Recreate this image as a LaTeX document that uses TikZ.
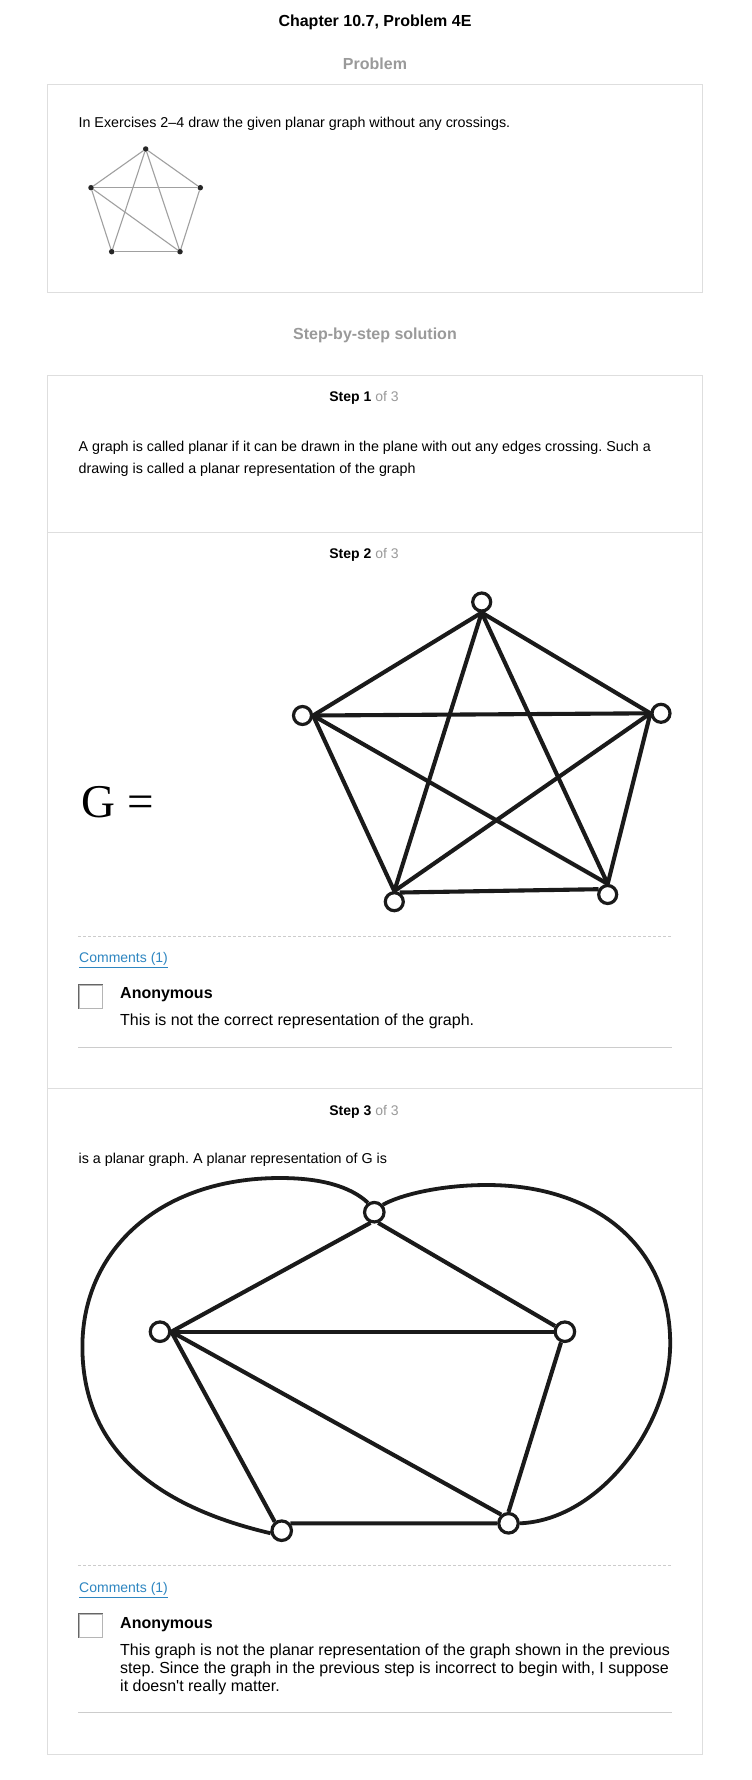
\documentclass[tikz,border=0pt]{standalone}
\usepackage{fontspec}
\setmainfont{Liberation Sans}
\newfontfamily\gserif{Liberation Serif}
\definecolor{headgray}{HTML}{9A9A9A}
\definecolor{framegray}{HTML}{DEDEDE}
\definecolor{linkblue}{HTML}{2E86C1}
\definecolor{rulegray}{HTML}{CCCCCC}
\definecolor{inkblack}{HTML}{1A1A1A}
\definecolor{thingray}{HTML}{A0A0A0}
\definecolor{boxdark}{HTML}{666666}
\definecolor{boxlight}{HTML}{B5B5B5}
\pgfdeclarelayer{edgelayer}
\pgfsetlayers{edgelayer,main}
\frenchspacing
\begin{document}
\frenchspacing
\begin{tikzpicture}[x=1pt,y=1pt,
  heading/.style={inner sep=0pt, anchor=base, font=\bfseries\fontsize{16}{19}\selectfont},
  steptitle/.style={inner sep=0pt, anchor=base, font=\fontsize{14}{17}\selectfont},
  bodytext/.style={inner sep=0pt, anchor=base west, font=\fontsize{14.3}{17}\selectfont},
  commenttext/.style={inner sep=0pt, anchor=base west, font=\fontsize{16}{19}\selectfont},
  author/.style={inner sep=0pt, anchor=base west, font=\bfseries\fontsize{16}{19}\selectfont},
  linktext/.style={inner sep=0pt, anchor=base west, text=linkblue, font=\fontsize{14}{17}\selectfont},
  frame/.style={draw=framegray, line width=1pt},
  dashrule/.style={draw=rulegray, dash pattern=on 3pt off 2pt, line width=0.8pt},
  solidrule/.style={draw=rulegray, line width=1pt},
  vtx/.style={circle, draw=inkblack, fill=white, line width=3.2pt, minimum size=18pt, inner sep=0pt},
  vtxb/.style={circle, draw=inkblack, fill=white, line width=3.2pt, minimum size=19.5pt, inner sep=0pt},
  edge/.style={draw=inkblack, line width=4.1pt},
  curveedge/.style={draw=inkblack, line width=3.8pt, line join=round},
  dot/.style={circle, fill=black!85, minimum size=5.5pt, inner sep=0pt},
  thinedge/.style={draw=thingray, line width=1.1pt},
  chk/.style={rectangle, draw=boxlight, line width=1pt, minimum width=23pt, minimum height=23pt, inner sep=0pt}
]
\useasboundingbox (0,0) rectangle (752,-1780);
\begin{pgfonlayer}{edgelayer}
\fill[white] (0,0) rectangle (752,-1780);
\end{pgfonlayer}

% Title and problem
\node[heading] (title) at (375,-26.5) {Chapter 10.7, Problem 4E};
\node[heading, text=headgray] (probhead) at (375,-69.5) {Problem};
\draw[frame] (47.7,-84) rectangle (702,-292);
\node[bodytext] (probtext) at (78.4,-127.5) {In Exercises 2–4 draw the given planar graph without any crossings.};

% small graph
\node[dot] (p1) at (145.7,-149) {};
\node[dot] (p2) at (91,-187.7) {};
\node[dot] (p3) at (200.3,-187.7) {};
\node[dot] (p4) at (111.7,-251.7) {};
\node[dot] (p5) at (180,-251.7) {};
\begin{pgfonlayer}{edgelayer}
\draw[thinedge] (p1) -- (p2);
\draw[thinedge] (p1) -- (p3);
\draw[thinedge] (p1) -- (p4);
\draw[thinedge] (p1) -- (p5);
\draw[thinedge] (p2) -- (p3);
\draw[thinedge] (p2) -- (p4);
\draw[thinedge] (p2) -- (p5);
\draw[thinedge] (p3) -- (p5);
\draw[thinedge] (p4) -- (p5);
\end{pgfonlayer}

% Solution heading and box
\node[heading, text=headgray] (solhead) at (375,-339) {Step-by-step solution};
\draw[frame] (47.7,-375) rectangle (702,-1754);
\draw[frame] (47.7,-532) -- (702,-532);
\draw[frame] (47.7,-1088.3) -- (702,-1088.3);

% Step 1
\node[steptitle] (st1) at (364,-401) {\textbf{Step 1} \textcolor{headgray}{of 3}};
\node[bodytext] (s1a) at (78.4,-451.5) {A graph is called planar if it can be drawn in the plane with out any edges crossing. Such a};
\node[bodytext] (s1b) at (78.4,-473) {drawing is called a planar representation of the graph};

% Step 2
\node[steptitle] (st2) at (364,-558) {\textbf{Step 2} \textcolor{headgray}{of 3}};
\node[inner sep=0pt, anchor=base west, font=\gserif\fontsize{47}{50}\selectfont] (geq) at (81.5,-817) {G =};
\node[vtx] (a) at (481.7,-602) {};
\node[vtx] (b) at (302.5,-715.5) {};
\node[vtx] (c) at (661,-713.3) {};
\node[vtx] (d) at (394.3,-901.7) {};
\node[vtx] (e) at (607.7,-894.5) {};
\begin{pgfonlayer}{edgelayer}
\draw[edge] (a.south) -- (b.east);
\draw[edge] (a.south) -- (c.west);
\draw[edge] (a.south) -- (d.north);
\draw[edge] (a.south) -- (e.north);
\draw[edge] (b.east) -- (c.west);
\draw[edge] (b.east) -- (d.north);
\draw[edge] (b.east) -- (e.north);
\draw[edge] (c.west) -- (d.north);
\draw[edge] (c.west) -- (e.north);
\draw[edge] (d.60) -- (e.150);
\end{pgfonlayer}

% Comments step 2
\draw[dashrule] (78.4,-936.5) -- (671.5,-936.5);
\node[linktext] (com1) at (79,-962.7) {\underline{Comments (1)}};
\node[chk] (cb1) at (90.7,-996.7) {};
\draw[draw=boxdark, line width=1pt] (cb1.south west) -- (cb1.north west) -- (cb1.north east);
\node[author] (an1) at (120,-998.5) {Anonymous};
\node[commenttext] (ct1) at (120,-1025.5) {This is not the correct representation of the graph.};
\draw[solidrule] (78.4,-1047.4) -- (671.5,-1047.4);

% Step 3
\node[steptitle] (st3) at (364,-1115) {\textbf{Step 3} \textcolor{headgray}{of 3}};
\node[bodytext] (s3a) at (78.4,-1163.5) {is a planar graph. A planar representation of G is};
\node[vtxb] (t3) at (374.3,-1212.2) {};
\node[vtxb] (l3) at (160,-1331.7) {};
\node[vtxb] (r3) at (564.9,-1331.7) {};
\node[vtxb] (bl3) at (281.7,-1530.7) {};
\node[vtxb] (br3) at (508.5,-1523.3) {};
\begin{pgfonlayer}{edgelayer}
\draw[edge] (t3.250) -- (l3.east);
\draw[edge] (t3.290) -- (r3.150);
\draw[edge] (l3.east) -- (r3.west);
\draw[edge] (l3.east) -- (bl3.128);
\draw[edge] (l3.east) -- (br3.130);
\draw[edge] (r3.250) -- (br3.north);
\draw[edge] (bl3.40) -- (br3.180);
\draw[curveedge] (t3.124) .. controls (350,-1186) and (320,-1178) .. (280,-1178)
  .. controls (160,-1178) and (82.4,-1250) .. (82.4,-1346.7)
  .. controls (82.4,-1445) and (150,-1505) .. (bl3.193);
\draw[curveedge] (t3.41) .. controls (400,-1195) and (440,-1185) .. (487,-1185)
  .. controls (597,-1185) and (670.2,-1248) .. (670.2,-1343.3)
  .. controls (670.2,-1425) and (600,-1520) .. (br3.east);
\end{pgfonlayer}

% Comments step 3
\draw[dashrule] (78.4,-1565.5) -- (671.5,-1565.5);
\node[linktext] (com2) at (79,-1592.7) {\underline{Comments (1)}};
\node[chk] (cb2) at (90.7,-1625.7) {};
\draw[draw=boxdark, line width=1pt] (cb2.south west) -- (cb2.north west) -- (cb2.north east);
\node[author] (an2) at (120,-1628) {Anonymous};
\node[commenttext] (ct2a) at (120,-1655) {This graph is not the planar representation of the graph shown in the previous};
\node[commenttext] (ct2b) at (120,-1673.2) {step. Since the graph in the previous step is incorrect to begin with, I suppose};
\node[commenttext] (ct2c) at (120,-1691.4) {it doesn\textquotesingle t really matter.};
\draw[solidrule] (78.4,-1712.3) -- (671.5,-1712.3);
\end{tikzpicture}
\end{document}
